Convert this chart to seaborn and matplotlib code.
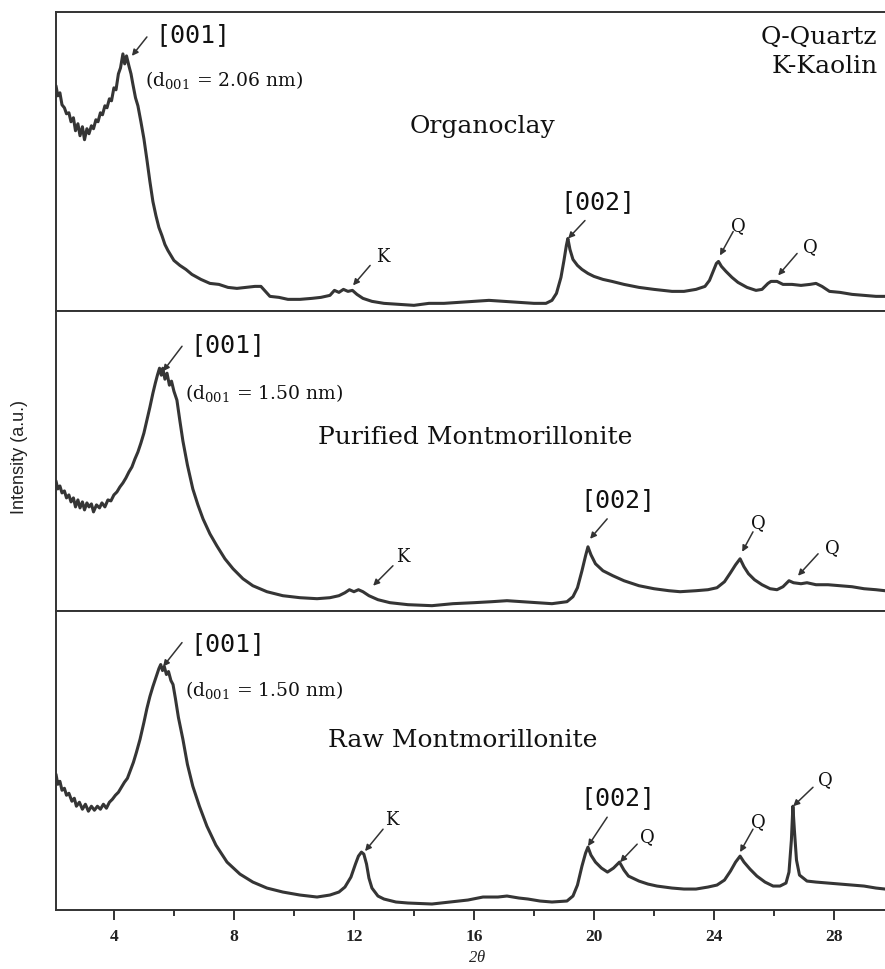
import numpy as np
import pandas as pd
import matplotlib
matplotlib.use("Agg")
import matplotlib.pyplot as plt
import seaborn as sns

# ---------------- data ----------------
two_theta_organo = [2.07, 2.13, 2.2, 2.27, 2.35, 2.42, 2.5, 2.57, 2.65, 2.72, 2.8, 2.87, 2.95, 3.02, 3.1, 3.17,
                    3.25, 3.32, 3.4, 3.47, 3.55, 3.62, 3.7, 3.77, 3.85, 3.92, 4.0, 4.07, 4.15, 4.22, 4.3, 4.36,
                    4.42, 4.5, 4.57, 4.63, 4.72, 4.8, 4.9, 5.0, 5.1, 5.2, 5.3, 5.4, 5.5, 5.6, 5.7, 5.8, 5.9, 6.0,
                    6.2, 6.4, 6.6, 6.9, 7.2, 7.5, 7.8, 8.1, 8.4, 8.7, 8.9, 9.05, 9.2, 9.5, 9.8, 10.2, 10.6, 10.9,
                    11.2, 11.35, 11.5, 11.65, 11.8, 11.95, 12.1, 12.3, 12.6, 13.0, 13.5, 14.0, 14.5, 15.0, 15.5,
                    16.0, 16.5, 17.0, 17.5, 18.0, 18.4, 18.6, 18.75, 18.9, 19.0, 19.08, 19.13, 19.2, 19.3, 19.45,
                    19.6, 19.8, 20.0, 20.3, 20.6, 21.0, 21.5, 22.0, 22.6, 23.0, 23.4, 23.7, 23.85, 23.97, 24.08,
                    24.15, 24.25, 24.4, 24.6, 24.8, 25.1, 25.4, 25.6, 25.8, 25.9, 26.1, 26.3, 26.6, 26.9, 27.2,
                    27.4, 27.6, 27.85, 28.2, 28.6, 29.0, 29.4, 29.7]
intensity_organo = [226, 216, 219, 207, 204, 198, 199, 190, 194, 181, 188, 176, 185, 172, 183, 178,
                    186, 183, 192, 190, 199, 197, 206, 204, 213, 211, 224, 222, 238, 244, 258, 248,
                    256, 246, 238, 228, 214, 206, 190, 173, 152, 130, 110, 96, 84, 76, 67, 61, 56, 51,
                    46, 42, 37, 32, 28, 27, 24, 23, 24, 25, 25, 20, 15, 14, 12, 12, 13, 14,
                    16, 21, 19, 22, 20, 21, 17, 13, 10, 8, 7, 6, 8, 8, 9,
                    10, 11, 10, 9, 8, 8, 11, 18, 34, 51, 66, 73, 62, 52, 46,
                    42, 38, 35, 32, 30, 27, 24, 22, 20, 20, 22, 25, 31, 40, 48,
                    50, 45, 40, 34, 29, 24, 21, 22, 28, 30, 30, 27, 27, 26, 27,
                    28, 25, 20, 19, 17, 16, 15, 15]

two_theta_purified = [2.07, 2.13, 2.2, 2.27, 2.35, 2.42, 2.5, 2.57, 2.65, 2.72, 2.8, 2.87, 2.95, 3.02, 3.1, 3.17,
                      3.25, 3.32, 3.42, 3.52, 3.6, 3.7, 3.8, 3.9, 4.0, 4.1, 4.2, 4.3, 4.4, 4.5, 4.6, 4.7, 4.8,
                      4.9, 5.0, 5.1, 5.2, 5.3, 5.38, 5.45, 5.52, 5.58, 5.63, 5.7, 5.77, 5.85, 5.92, 6.0, 6.1,
                      6.2, 6.3, 6.45, 6.63, 6.8, 6.97, 7.2, 7.43, 7.7, 7.97, 8.3, 8.63, 9.1, 9.63, 10.2, 10.77,
                      11.2, 11.5, 11.7, 11.85, 12.0, 12.15, 12.3, 12.5, 12.8, 13.2, 13.8, 14.6, 15.3, 16.0, 16.6,
                      17.1, 17.6, 18.1, 18.6, 19.1, 19.3, 19.45, 19.6, 19.72, 19.8, 19.9, 20.05, 20.3, 20.63,
                      21.0, 21.5, 22.0, 22.5, 22.87, 23.4, 23.8, 24.1, 24.35, 24.55, 24.72, 24.87, 25.0, 25.15,
                      25.35, 25.6, 25.87, 26.1, 26.3, 26.5, 26.65, 26.9, 27.1, 27.4, 27.8, 28.2, 28.6, 29.0,
                      29.4, 29.7]
intensity_purified = [130, 122, 125, 118, 120, 113, 116, 109, 113, 104, 111, 103, 109, 101, 108, 104,
                      107, 99, 106, 103, 108, 104, 111, 110, 116, 119, 124, 128, 133, 139, 144, 152, 159,
                      168, 178, 191, 204, 218, 228, 236, 243, 236, 243, 232, 238, 226, 230, 220, 211,
                      190, 170, 146, 122, 106, 92, 77, 65, 52, 42, 32, 25, 19, 15, 13, 12,
                      13, 15, 18, 21, 19, 21, 19, 15, 11, 8, 6, 5, 7, 8, 9,
                      10, 9, 8, 7, 9, 14, 23, 40, 55, 64, 56, 47, 40, 35,
                      30, 25, 22, 20, 19, 20, 21, 23, 29, 38, 46, 52, 44, 37,
                      31, 26, 22, 21, 24, 30, 28, 27, 28, 26, 26, 25, 24, 22,
                      21, 20]

two_theta_raw = [2.07, 2.13, 2.2, 2.27, 2.35, 2.42, 2.5, 2.6, 2.68, 2.75, 2.85, 2.95, 3.05, 3.15, 3.25, 3.35,
                 3.45, 3.55, 3.65, 3.75, 3.85, 3.95, 4.05, 4.15, 4.25, 4.35, 4.45, 4.55, 4.65, 4.75, 4.87,
                 5.0, 5.1, 5.2, 5.3, 5.4, 5.5, 5.56, 5.62, 5.68, 5.75, 5.82, 5.9, 5.97, 6.05, 6.15, 6.3,
                 6.45, 6.63, 6.85, 7.1, 7.4, 7.77, 8.2, 8.63, 9.1, 9.63, 10.2, 10.77, 11.2, 11.5, 11.7,
                 11.9, 12.05, 12.15, 12.25, 12.33, 12.42, 12.5, 12.6, 12.8, 13.0, 13.4, 13.8, 14.6, 15.2,
                 15.8, 16.3, 16.8, 17.1, 17.5, 17.8, 18.2, 18.6, 19.1, 19.3, 19.45, 19.6, 19.72, 19.8, 19.9,
                 20.05, 20.25, 20.45, 20.65, 20.85, 21.0, 21.15, 21.5, 21.8, 22.1, 22.6, 23.0, 23.4, 23.8,
                 24.1, 24.35, 24.55, 24.72, 24.87, 25.0, 25.2, 25.43, 25.7, 25.97, 26.2, 26.4, 26.5, 26.58,
                 26.63, 26.68, 26.75, 26.85, 27.1, 27.4, 27.8, 28.2, 28.6, 29.0, 29.4, 29.7]
intensity_raw = [136, 126, 129, 120, 122, 115, 117, 109, 112, 104, 108, 101, 106, 99, 104, 100,
                 104, 101, 106, 102, 108, 111, 115, 118, 123, 128, 132, 140, 148, 158, 171,
                 188, 202, 214, 224, 233, 242, 246, 240, 244, 236, 239, 230, 226, 212, 193, 171,
                 146, 124, 104, 84, 65, 48, 36, 28, 22, 18, 15, 13, 15, 18, 23,
                 33, 46, 54, 58, 56, 46, 32, 22, 14, 11, 8, 7, 6, 8,
                 10, 13, 13, 14, 12, 11, 9, 8, 9, 14, 25, 44, 57, 63, 55,
                 48, 42, 38, 42, 48, 40, 34, 29, 26, 24, 22, 21, 21, 23,
                 25, 30, 39, 48, 54, 48, 41, 34, 28, 24, 24, 27, 38, 70,
                 104, 80, 50, 35, 29, 28, 27, 26, 25, 24, 22, 21]

sample_names = ["Organoclay", "Purified Montmorillonite", "Raw Montmorillonite"]
x_ticks = [4, 8, 12, 16, 20, 24, 28]
x_tick_labels = ["4", "8", "12", "16", "20", "24", "28"]
d_spacing_labels = ["(d$_{001}$ = 2.06 nm)", "(d$_{001}$ = 1.50 nm)", "(d$_{001}$ = 1.50 nm)"]

# ---------------- style ----------------
sns.set_theme(style="white")
plt.rcParams["font.family"] = ["DejaVu Serif", "Liberation Serif"]
plt.rcParams["mathtext.default"] = "regular"

LINE = "#353535"
SERIF = ["DejaVu Serif", "Liberation Serif"]
TIMES = ["Liberation Serif", "DejaVu Serif"]
MONO = ["DejaVu Sans Mono"]

fig = plt.figure(figsize=(8.85, 9.7), dpi=100)
gs = fig.add_gridspec(3, 1, left=56 / 885, right=1.0, top=1 - 13 / 970, bottom=1 - 911 / 970, hspace=0)
axes = [fig.add_subplot(gs[i]) for i in range(3)]

series = [(two_theta_organo, intensity_organo),
          (two_theta_purified, intensity_purified),
          (two_theta_raw, intensity_raw)]

for ax, (xs, ys) in zip(axes, series):
    df = pd.DataFrame({"two_theta": xs, "intensity": ys})
    sns.lineplot(data=df, x="two_theta", y="intensity", ax=ax, color=LINE, linewidth=2.2,
                 estimator=None, sort=False)
    ax.set_xlim(2.07, 29.7)
    ax.set_ylim(0, 300)
    ax.set_yticks([])
    ax.set_xlabel("")
    ax.set_ylabel("")
    for s in ax.spines.values():
        s.set_color("#333333")
        s.set_linewidth(1.4)
    ax.spines["right"].set_visible(False)
    ax.set_facecolor("white")

for ax in axes[:2]:
    ax.set_xticks([])
    ax.tick_params(axis="x", which="both", bottom=False, labelbottom=False)

axb = axes[2]
axb.set_xticks(x_ticks)
axb.set_xticklabels(x_tick_labels, fontfamily=TIMES, fontweight="bold", fontsize=12.5, color="#222222")
axb.set_xticks([6, 10, 14, 18, 22, 26], minor=True)
axb.tick_params(axis="x", which="major", direction="out", length=7, width=1.4, color="#333333",
                bottom=True, pad=6)
axb.tick_params(axis="x", which="minor", direction="out", length=4, width=1.4, color="#333333", bottom=True)


def arrow(ax, tail, tip):
    ax.annotate("", xy=tip, xytext=tail,
                arrowprops=dict(arrowstyle="-|>", color="#333333", lw=1.1, shrinkA=0, shrinkB=0,
                                mutation_scale=9))


def lab(ax, x, y, s, size=13, ha="left", family=SERIF, **kw):
    ax.text(x, y, s, fontsize=size, ha=ha, va="center", family=family, color="#111111", **kw)


BR = 18      # bracketed Miller indices
DS = 13.5    # d-spacing text
NM = 18      # sample names
QK = 13      # Q / K peak markers

# ---- Organoclay ----
a = axes[0]
lab(a, 5.37, 278, "[001]", size=BR, family=MONO)
arrow(a, (5.1, 275), (4.6, 256))
lab(a, 5.04, 233, d_spacing_labels[0], size=DS)
lab(a, 13.87, 186, sample_names[0], size=NM)
lab(a, 29.45, 276, "Q-Quartz", size=NM, ha="right")
lab(a, 29.45, 246, "K-Kaolin", size=NM, ha="right")
lab(a, 18.87, 110, "[002]", size=BR, family=MONO)
arrow(a, (19.7, 91), (19.14, 73))
lab(a, 24.8, 86, "Q", size=QK, ha="center")
arrow(a, (24.64, 80), (24.2, 56))
lab(a, 27.2, 65, "Q", size=QK, ha="center")
arrow(a, (26.77, 58), (26.14, 36))
lab(a, 12.97, 55, "K", size=QK, ha="center")
arrow(a, (12.54, 46), (11.97, 26))

# ---- Purified ----
a = axes[1]
lab(a, 6.54, 267, "[001]", size=BR, family=MONO)
arrow(a, (6.27, 265), (5.64, 240))
lab(a, 6.37, 219, d_spacing_labels[1], size=DS)
lab(a, 10.8, 175, sample_names[1], size=NM)
lab(a, 13.64, 55, "K", size=QK, ha="center")
arrow(a, (13.3, 45), (12.64, 25))
lab(a, 19.54, 112, "[002]", size=BR, family=MONO)
arrow(a, (20.44, 92), (19.87, 72))
lab(a, 25.47, 89, "Q", size=QK, ha="center")
arrow(a, (25.3, 79), (24.94, 59))
lab(a, 27.94, 64, "Q", size=QK, ha="center")
arrow(a, (27.47, 57), (26.8, 35))

# ---- Raw ----
a = axes[2]
lab(a, 6.54, 268, "[001]", size=BR, family=MONO)
arrow(a, (6.27, 268), (5.64, 244))
lab(a, 6.37, 221, d_spacing_labels[2], size=DS)
lab(a, 11.14, 171, sample_names[2], size=NM)
lab(a, 13.27, 91, "K", size=QK, ha="center")
arrow(a, (12.97, 81), (12.37, 59))
lab(a, 19.54, 113, "[002]", size=BR, family=MONO)
arrow(a, (20.44, 93), (19.8, 64))
lab(a, 21.77, 74, "Q", size=QK, ha="center")
arrow(a, (21.44, 66), (20.87, 48))
lab(a, 25.47, 89, "Q", size=QK, ha="center")
arrow(a, (25.3, 81), (24.87, 58))
lab(a, 27.7, 131, "Q", size=QK, ha="center")
arrow(a, (27.3, 123), (26.64, 104))

fig.text(20 / 885, 1 - 457 / 970, "Intensity (a.u.)", rotation=90, ha="center", va="center",
         fontsize=13, family=["Liberation Sans", "DejaVu Sans"], color="#222222")
fig.text(477 / 885, 1 - 958 / 970, "2$\\theta$", ha="center", va="center", fontsize=12,
         family=TIMES, style="italic", color="#222222")

fig.savefig("out.png", dpi=100, facecolor="white")
